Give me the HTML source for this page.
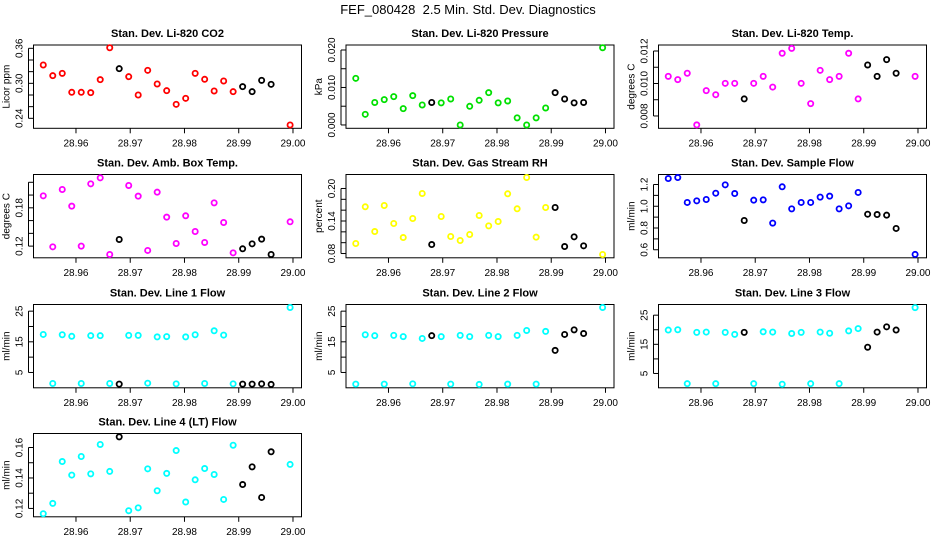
<!DOCTYPE html>
<html><head><meta charset="utf-8">
<style>
html,body{margin:0;padding:0;background:#fff;}
svg{display:block;font-family:"Liberation Sans",Arial,sans-serif;}
</style></head>
<body>
<svg id="chart" width="936" height="540" viewBox="0 0 936 540" xmlns="http://www.w3.org/2000/svg">
<text x="468" y="14" text-anchor="middle" font-size="13">FEF_080428&#160;&#160;2.5 Min. Std. Dev. Diagnostics</text>
</svg>
<script>
const times = [28.95397,28.95572,28.95747,28.95922,28.96097,28.96272,28.96447,28.96622,28.96797,28.96972,28.97147,28.97322,28.97497,28.97672,28.97847,28.98022,28.98197,28.98372,28.98547,28.98722,28.98897,28.99072,28.99247,28.99422,28.99597,28.99947];
const flagged = [0,0,0,0,0,0,0,0,1,0,0,0,0,0,0,0,0,0,0,0,0,1,1,1,1,0];
const xTicks = [28.96,28.97,28.98,28.99,29.00];
const xTickLabels = ["28.96","28.97","28.98","28.99","29.00"];

const co2 = [0.3314,0.3131,0.3171,0.2846,0.2846,0.284,0.3063,0.361,0.3251,0.3114,0.28,0.3223,0.2989,0.2874,0.264,0.2743,0.3171,0.3069,0.2869,0.304,0.2857,0.2943,0.2857,0.3051,0.2983,0.2286];
const pressure = [0.01244,0.00284,0.0060,0.00676,0.00756,0.00436,0.00782,0.00533,0.0060,0.0059,0.00693,0.0,0.00498,0.00658,0.00862,0.0059,0.0064,0.0019,0.0,0.0019,0.00453,0.00862,0.00693,0.0059,0.0060,0.0206];
const licorTemp = [0.01044,0.01024,0.01063,0.00745,0.00956,0.00931,0.01001,0.01001,0.00905,0.01001,0.01044,0.00978,0.01186,0.01216,0.01001,0.00876,0.01081,0.01024,0.01044,0.01186,0.00905,0.01114,0.01044,0.01147,0.01063,0.01044];
const boxTemp = [0.1988,0.1189,0.2087,0.1826,0.12,0.2176,0.227,0.1069,0.1304,0.215,0.1983,0.1132,0.2045,0.1654,0.1241,0.1675,0.1429,0.1257,0.1878,0.157,0.1095,0.1158,0.1236,0.1309,0.1069,0.1581];
const rh = [0.0985,0.1662,0.1206,0.1686,0.1354,0.1095,0.1446,0.1908,0.0966,0.1483,0.1114,0.104,0.1151,0.1502,0.131,0.1391,0.1902,0.1625,0.2203,0.1102,0.1649,0.1649,0.0929,0.1108,0.0942,0.0782];
const sampleFlow = [1.255,1.264,1.035,1.05,1.062,1.12,1.197,1.117,0.869,1.056,1.059,0.845,1.179,0.976,1.035,1.035,1.084,1.093,0.976,1.004,1.127,0.927,0.924,0.918,0.796,0.557];
const line1 = [17.4,1.4,17.3,16.8,1.4,17.0,17.0,1.4,1.2,17.1,17.1,1.5,16.6,16.7,1.3,16.6,17.3,1.4,18.6,17.2,1.3,1.2,1.2,1.3,1.1,26.2];
const line2 = [1.2,17.3,17.0,1.2,17.1,16.7,1.3,16.1,17.0,16.7,1.2,17.1,16.7,1.1,17.1,16.7,1.2,17.1,18.7,1.2,18.4,12.2,17.4,18.9,17.7,26.2];
const line3 = [19.9,20.0,1.5,19.1,19.2,1.5,19.1,18.4,19.1,1.5,19.3,19.2,1.3,18.7,19.1,1.5,19.2,18.8,1.5,19.6,20.4,14.0,19.2,21.0,19.9,27.6];
const line4 = [0.1165,0.1233,0.1508,0.1419,0.1541,0.1427,0.162,0.1443,0.167,0.1185,0.1204,0.146,0.1316,0.143,0.158,0.1242,0.1388,0.1462,0.1423,0.1259,0.1615,0.1357,0.1473,0.1272,0.1572,0.1489];

const panels = [
 {name:"co2",title:"Stan. Dev. Li-820 CO2",ylab:"Licor ppm",vals:co2,color:"#ff0000",col:0,row:0,ymin:0.2229,ymax:0.3657,ticks:[0.24,0.26,0.28,0.30,0.32,0.34,0.36],labels:{"0.24":"0.24","0.3":"0.30","0.36":"0.36"}},
 {name:"pressure",title:"Stan. Dev. Li-820 Pressure",ylab:"kPa",vals:pressure,color:"#00e000",col:1,row:0,ymin:-0.00089,ymax:0.02133,ticks:[0,0.005,0.01,0.015,0.02],labels:{"0":"0.000","0.01":"0.010","0.02":"0.020"}},
 {name:"licor-temp",title:"Stan. Dev. Li-820 Temp.",ylab:"degrees C",vals:licorTemp,color:"#ff00ff",col:2,row:0,ymin:0.007241,ymax:0.01237,ticks:[0.008,0.009,0.010,0.011,0.012],labels:{"0.008":"0.008","0.01":"0.010","0.012":"0.012"}},
 {name:"box-temp",title:"Stan. Dev. Amb. Box Temp.",ylab:"degrees C",vals:boxTemp,color:"#ff00ff",col:0,row:1,ymin:0.1017,ymax:0.2322,ticks:[0.12,0.14,0.16,0.18,0.20,0.22],labels:{"0.12":"0.12","0.18":"0.18"}},
 {name:"rh",title:"Stan. Dev. Gas Stream RH",ylab:"percent",vals:rh,color:"#ffff00",col:1,row:1,ymin:0.0721,ymax:0.2258,ticks:[0.08,0.10,0.12,0.14,0.16,0.18,0.20],labels:{"0.08":"0.08","0.14":"0.14","0.2":"0.20"}},
 {name:"sample-flow",title:"Stan. Dev. Sample Flow",ylab:"ml/min",vals:sampleFlow,color:"#0000ff",col:2,row:1,ymin:0.526,ymax:1.292,ticks:[0.6,0.7,0.8,0.9,1.0,1.1,1.2],labels:{"0.6":"0.6","0.8":"0.8","1":"1.0","1.2":"1.2"}},
 {name:"line1",title:"Stan. Dev. Line 1 Flow",ylab:"ml/min",vals:line1,color:"#00ffff",col:0,row:2,ymin:0.0,ymax:27.17,ticks:[5,10,15,20,25],labels:{"5":"5","15":"15","25":"25"}},
 {name:"line2",title:"Stan. Dev. Line 2 Flow",ylab:"ml/min",vals:line2,color:"#00ffff",col:1,row:2,ymin:0.0,ymax:27.17,ticks:[5,10,15,20,25],labels:{"5":"5","15":"15","25":"25"}},
 {name:"line3",title:"Stan. Dev. Line 3 Flow",ylab:"ml/min",vals:line3,color:"#00ffff",col:2,row:2,ymin:0.086,ymax:28.66,ticks:[5,10,15,20,25],labels:{"5":"5","15":"15","25":"25"}},
 {name:"line4",title:"Stan. Dev. Line 4 (LT) Flow",ylab:"ml/min",vals:line4,color:"#00ffff",col:0,row:3,ymin:0.1145,ymax:0.1692,ticks:[0.12,0.13,0.14,0.15,0.16],labels:{"0.12":"0.12","0.14":"0.14","0.16":"0.16"}}
];

const svg = document.getElementById('chart');
const NS = "http://www.w3.org/2000/svg";
const colOff = [0,312.5,625], rowTop = [45,174.5,304.5,433.5];
const BW = 268, BH = 83.3, XMIN = 28.95217, XMAX = 29.00157;
function mk(tag, attrs, parent){const e=document.createElementNS(NS,tag);for(const k in attrs)e.setAttribute(k,attrs[k]);(parent||svg).appendChild(e);return e;}

panels.forEach(p=>{
  const L = colOff[p.col]+33.5, T = rowTop[p.row], B = T+BH, R = L+BW;
  const xs = v => L + (v-XMIN)/(XMAX-XMIN)*BW;
  const ys = v => B - (v-p.ymin)/(p.ymax-p.ymin)*BH;
  const g = mk('g',{});
  
  
  const t = mk('text',{x:(L+R)/2,y:T-8,'text-anchor':'middle','font-size':'11','font-weight':'bold'},g);
  t.textContent = p.title;
  
  
  const box = mk('rect',{x:L,y:T,width:BW,height:BH,fill:'none',stroke:'#000','stroke-width':'1'},g);
  
  
  const xa = mk('g',{},g);
  
  
  xTicks.forEach((v,i)=>{
    const x = xs(v);
    mk('line',{x1:x,x2:x,y1:B,y2:B+5,stroke:'#000'},xa);
    const tl = mk('text',{x:x,y:B+18,'text-anchor':'middle','font-size':'10'},xa);
    tl.textContent = xTickLabels[i];
    
    
  });
  const ya = mk('g',{},g);
  
  
  mk('line',{x1:L-5,x2:L-5,y1:ys(p.ticks[0]),y2:ys(p.ticks[p.ticks.length-1]),stroke:'#000'},ya);
  p.ticks.forEach(v=>{
    const y = ys(v);
    mk('line',{x1:L-5,x2:L,y1:y,y2:y,stroke:'#000'},ya);
    const key = String(+v.toFixed(6));
    if(p.labels[key]!==undefined){
      const tl = mk('text',{x:0,y:0,transform:`translate(${L-11},${y}) rotate(-90)`,'text-anchor':'middle','font-size':'10'},ya);
      tl.textContent = p.labels[key];
      
      
    }
  });
  const yt = mk('text',{x:0,y:0,transform:`translate(${L-24},${(T+B)/2}) rotate(-90)`,'text-anchor':'middle','font-size':'10'},g);
  yt.textContent = p.ylab;
  
  
  p.vals.forEach((v,i)=>{
    const c = mk('circle',{cx:xs(times[i]),cy:ys(v),r:2.6,fill:'none',stroke:flagged[i]?'#000':p.color,'stroke-width':'1.8'},g);
    
    
  });
});
</script>
</body></html>
